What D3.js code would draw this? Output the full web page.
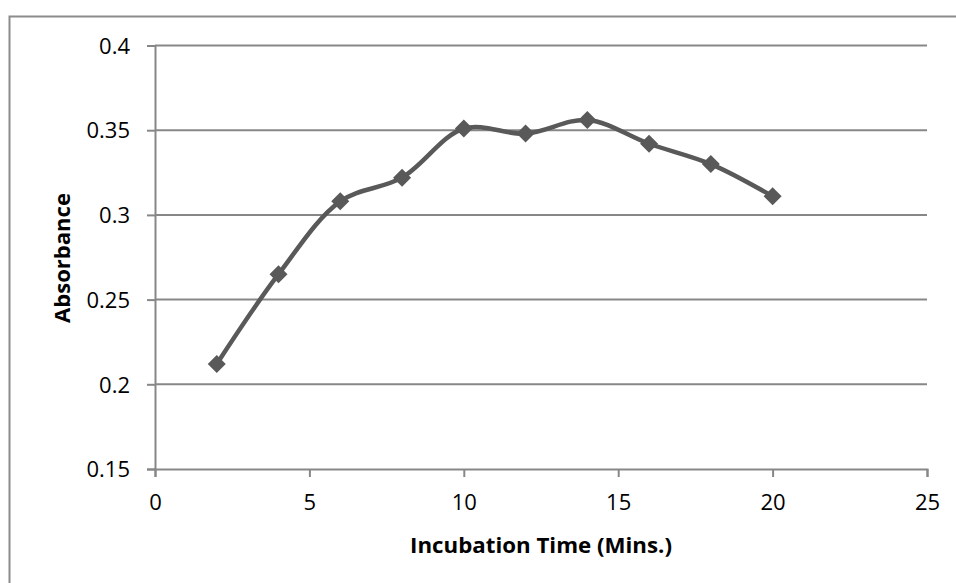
<!DOCTYPE html>
<meta charset="utf-8">
<style>
  body { margin: 0; background: #fff; }
  text { font-family: 'Open Sans', sans-serif; fill: #000; }
</style>
<script src="https://d3js.org/d3.v7.min.js"></script>
<body>
<div id="chart"></div>
<script>

// data
var times = [2, 4, 6, 8, 10, 12, 14, 16, 18, 20]
var absorbance = [0.212, 0.265, 0.308, 0.322, 0.351, 0.348, 0.356, 0.342, 0.330, 0.311]
var xTicks = [0, 5, 10, 15, 20, 25]
var yTicks = [0.15, 0.2, 0.25, 0.3, 0.35, 0.4]

var width = 956,
    height = 583

var plot = { left: 155, right: 927, top: 45.5, bottom: 469 }

var svg = d3.select("#chart")
  .append("svg")
    .attr("width", width)
    .attr("height", height)

// chart area border (runs off the right and bottom of the picture)
svg.append("rect")
  .attr("x", 9.5)
  .attr("y", 16.5)
  .attr("width", 1000)
  .attr("height", 1000)
  .attr("fill", "none")
  .attr("stroke", "#8c8c8c")
  .attr("stroke-width", 2)

var x = d3.scaleLinear().domain([0, 25]).range([plot.left, plot.right])
var y = d3.scaleLinear().domain([0.15, 0.4]).range([plot.bottom, plot.top])

// horizontal gridlines
svg.append("g")
  .selectAll("line")
  .data(yTicks.slice(1))
  .enter()
  .append("line")
    .attr("x1", plot.left)
    .attr("x2", plot.right)
    .attr("y1", function(d){ return y(d) })
    .attr("y2", function(d){ return y(d) })
    .attr("stroke", "#878787")
    .attr("stroke-width", 2)

// y axis
var yAxis = svg.append("g")
  .attr("transform", "translate(" + plot.left + ",0)")
  .call(d3.axisLeft(y).tickValues(yTicks).tickSize(8).tickPadding(17)
    .tickFormat(function(d){ return String(+d.toFixed(2)) }))
yAxis.select(".domain").attr("stroke", "#878787").attr("stroke-width", 2)
yAxis.selectAll(".tick line").attr("stroke", "#878787").attr("stroke-width", 2)
yAxis.selectAll("text").style("font-size", "22px").attr("fill", "#000").attr("dy", "0.35em")

// x axis
var xAxis = svg.append("g")
  .attr("transform", "translate(0," + plot.bottom + ")")
  .call(d3.axisBottom(x).tickValues(xTicks).tickSize(8).tickPadding(17))
xAxis.select(".domain").attr("stroke", "#878787").attr("stroke-width", 2)
xAxis.selectAll(".tick line").attr("stroke", "#878787").attr("stroke-width", 2)
xAxis.selectAll("text").style("font-size", "22px").attr("fill", "#000")

// smoothed series line
var line = d3.line()
  .x(function(d){ return x(d[0]) })
  .y(function(d){ return y(d[1]) })
  .curve(d3.curveCatmullRom.alpha(0.5))

var points = times.map(function(t, i){ return [t, absorbance[i]] })

svg.append("path")
  .datum(points)
  .attr("d", line)
  .attr("fill", "none")
  .attr("stroke", "#595959")
  .attr("stroke-width", 4.5)
  .attr("stroke-linejoin", "round")

// diamond markers
svg.append("g")
  .selectAll("path")
  .data(points)
  .enter()
  .append("path")
    .attr("transform", function(d){ return "translate(" + x(d[0]) + "," + y(d[1]) + ")" })
    .attr("d", "M0,-9L9,0L0,9L-9,0Z")
    .attr("fill", "#595959")

// axis titles
svg.append("text")
  .attr("x", (plot.left + plot.right) / 2)
  .attr("y", 553)
  .attr("text-anchor", "middle")
  .style("font-size", "22px")
  .style("font-weight", "bold")
  .attr("textLength", 262)
  .attr("lengthAdjust", "spacingAndGlyphs")
  .text("Incubation Time (Mins.)")

svg.append("text")
  .attr("transform", "translate(70," + 258 + ") rotate(-90)")
  .attr("text-anchor", "middle")
  .style("font-size", "22px")
  .style("font-weight", "bold")
  .attr("textLength", 130)
  .attr("lengthAdjust", "spacingAndGlyphs")
  .text("Absorbance")

</script>
</body>
